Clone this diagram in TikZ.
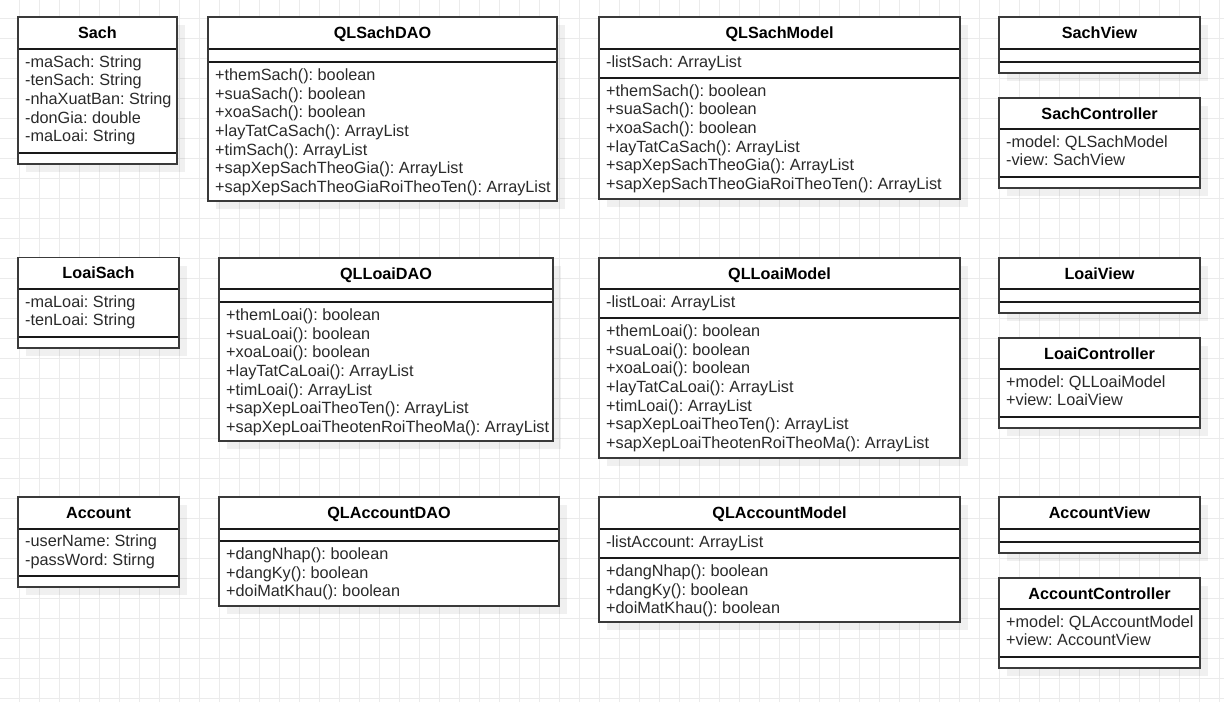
\documentclass[tikz,border=0pt]{standalone}
\usepackage{fontspec}
\setmainfont{Liberation Sans}
\frenchspacing
\definecolor{gridc}{HTML}{EBEBEB}
\definecolor{borderc}{HTML}{3A3A3A}
\definecolor{textc}{HTML}{2A2A2A}
\tikzset{
  boxshape/.style={draw=none, fill=white, inner sep=0pt, outer sep=0pt, anchor=north west},
  boxborder/.style={draw=borderc, line width=1.6pt},
  boxshadow/.style={fill=black, fill opacity=0.06, draw=none},
  divline/.style={draw=black!90, line width=1.2pt},
  gridline/.style={draw=gridc, line width=1pt},
  titletext/.style={font=\fontsize{16.2}{18.7}\selectfont\bfseries\frenchspacing, text=black, inner sep=0pt, anchor=base},
  membertext/.style={font=\fontsize{16.25}{18.7}\selectfont\frenchspacing, text=textc, inner sep=0pt, anchor=base west},
}
% name, x1, x2, ytop, ydiv1, ydiv2, ybot, title
\newcommand\umlbox[8]{%
  \fill[boxshadow] ({#2+8},{#4+8}) rectangle ({#3+8},{#7+8});
  \node[boxshape, minimum width={#3-#2}, minimum height={#7-#4}] (#1) at (#2,#4) {};
  \draw[divline] (#2,#5) -- (#3,#5);
  \draw[divline] (#2,#6) -- (#3,#6);
  \draw[boxborder] (#1.north west) rectangle (#1.south east);
  \node[titletext] (#1-title) at ({(#2+#3)/2},{(#4+#5)/2+5.5}) {#8};
}
% name, part, x, first baseline, list
\newcommand\umlmembers[5]{%
  \foreach \s [count=\i] in {#5}{%
    \node[membertext] (#1-#2\i) at ({#3},{#4+(\i-1)*18.7}) {\s};
  }%
}
\begin{document}
\begin{tikzpicture}[x=1pt,y=-1pt]
\useasboundingbox (0,0) rectangle (1224,702);
\fill[white] (0,0) rectangle (1224,702);
\foreach \gx in {19.3,39.3,...,1220} \draw[gridline] (\gx,0) -- (\gx,702);
\foreach \gy in {18.3,38.3,...,700} \draw[gridline] (0,\gy) -- (1224,\gy);

% ---------- row 1 ----------
\umlbox{sach}{18}{177}{17}{49}{153}{164}{Sach}
\umlmembers{sach}{a}{25}{67}{-maSach: String, -tenSach: String, -nhaXuatBan: String, -donGia: double, -maLoai: String}

\umlbox{sachdao}{208}{557}{17}{49}{62}{201}{QLSachDAO}
\umlmembers{sachdao}{m}{215}{80.3}{+themSach(): boolean, +suaSach(): boolean, +xoaSach(): boolean, +layTatCaSach(): ArrayList, +timSach(): ArrayList, +sapXepSachTheoGia(): ArrayList, +sapXepSachTheoGiaRoiTheoTen(): ArrayList}

\umlbox{sachmodel}{599}{960}{17}{49}{78}{199}{QLSachModel}
\umlmembers{sachmodel}{a}{606}{67}{-listSach: ArrayList}
\umlmembers{sachmodel}{m}{606}{96}{+themSach(): boolean, +suaSach(): boolean, +xoaSach(): boolean, +layTatCaSach(): ArrayList, +sapXepSachTheoGia(): ArrayList, +sapXepSachTheoGiaRoiTheoTen(): ArrayList}

\umlbox{sachview}{999}{1200}{17}{49}{62}{73}{SachView}
\umlbox{sachctrl}{999}{1200}{98}{129}{177}{188}{SachController}
\umlmembers{sachctrl}{a}{1006}{147}{-model: QLSachModel, -view: SachView}

% ---------- row 2 ----------
\umlbox{loaisach}{18}{179}{257.5}{289}{337}{348}{LoaiSach}
\umlmembers{loaisach}{a}{25}{307}{-maLoai: String, -tenLoai: String}

\umlbox{loaidao}{219}{553}{258}{289}{302}{441}{QLLoaiDAO}
\umlmembers{loaidao}{m}{226}{320.3}{+themLoai(): boolean, +suaLoai(): boolean, +xoaLoai(): boolean, +layTatCaLoai(): ArrayList, +timLoai(): ArrayList, +sapXepLoaiTheoTen(): ArrayList, +sapXepLoaiTheotenRoiTheoMa(): ArrayList}

\umlbox{loaimodel}{599}{960}{258}{289}{318}{458}{QLLoaiModel}
\umlmembers{loaimodel}{a}{606}{307}{-listLoai: ArrayList}
\umlmembers{loaimodel}{m}{606}{336.3}{+themLoai(): boolean, +suaLoai(): boolean, +xoaLoai(): boolean, +layTatCaLoai(): ArrayList, +timLoai(): ArrayList, +sapXepLoaiTheoTen(): ArrayList, +sapXepLoaiTheotenRoiTheoMa(): ArrayList}

\umlbox{loaiview}{999}{1200}{258}{289}{302}{313}{LoaiView}
\umlbox{loaictrl}{999}{1200}{338}{369}{417}{428}{LoaiController}
\umlmembers{loaictrl}{a}{1006}{387}{+model: QLLoaiModel, +view: LoaiView}

% ---------- row 3 ----------
\umlbox{acc}{18}{179}{497}{529}{576}{587}{Account}
\umlmembers{acc}{a}{25}{546.5}{-userName: String, -passWord: Stirng}

\umlbox{accdao}{219}{559}{497}{529}{541}{606}{QLAccountDAO}
\umlmembers{accdao}{m}{226}{559.5}{+dangNhap(): boolean, +dangKy(): boolean, +doiMatKhau(): boolean}

\umlbox{accmodel}{599}{960}{497}{529}{558}{622}{QLAccountModel}
\umlmembers{accmodel}{a}{606}{547}{-listAccount: ArrayList}
\umlmembers{accmodel}{m}{606}{576.3}{+dangNhap(): boolean, +dangKy(): boolean, +doiMatKhau(): boolean}

\umlbox{accview}{999}{1200}{497}{529}{542}{553}{AccountView}
\umlbox{accctrl}{999}{1200}{578}{609}{657}{668}{AccountController}
\umlmembers{accctrl}{a}{1006}{627}{+model: QLAccountModel, +view: AccountView}
\end{tikzpicture}
\end{document}
